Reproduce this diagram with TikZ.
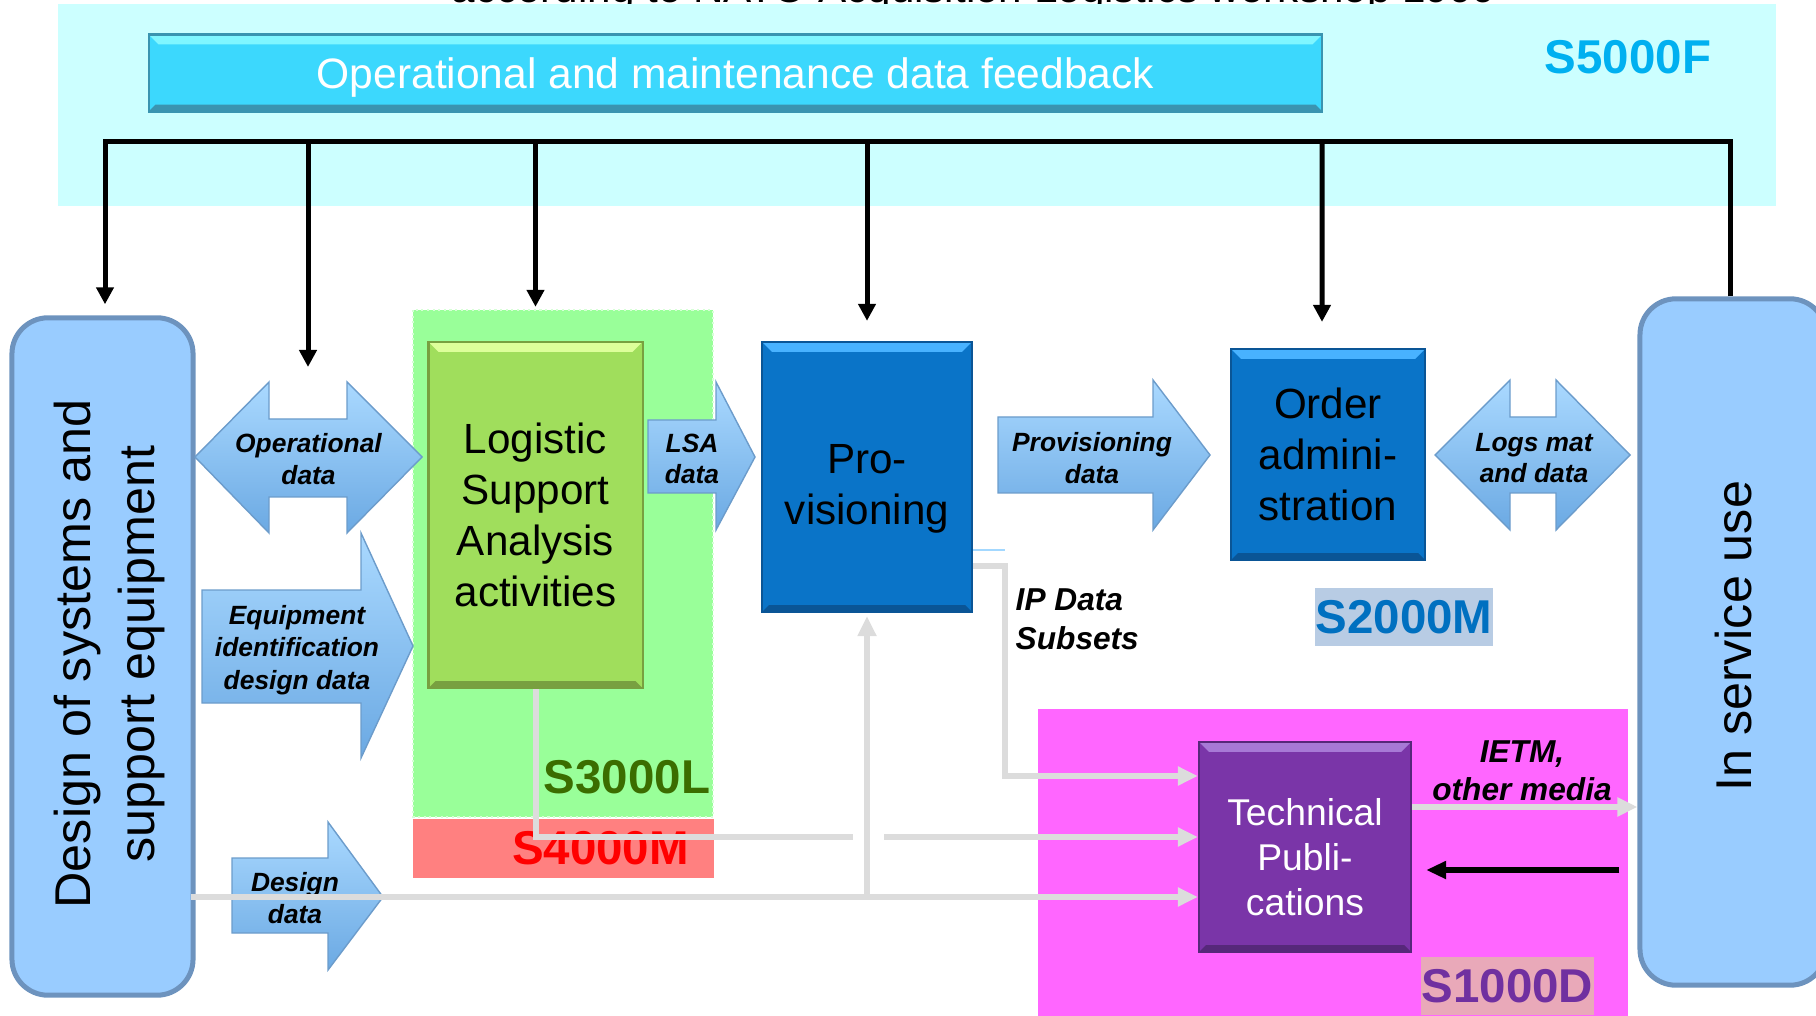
\documentclass[tikz,border=0pt]{standalone}
\usepackage{fontspec}
\setmainfont{Liberation Sans}
\usetikzlibrary{arrows.meta}

\definecolor{feedbg}{HTML}{CCFFFF}
\definecolor{feedbar}{HTML}{3CD8FD}
\definecolor{feedlight}{HTML}{80F6FF}
\definecolor{feeddark}{HTML}{3A94B0}
\definecolor{specblue}{HTML}{00B0F0}
\definecolor{areagreen}{HTML}{99FF99}
\definecolor{areared}{HTML}{FF8080}
\definecolor{areamagenta}{HTML}{FF66FF}
\definecolor{lsagreen}{HTML}{A0DE5C}
\definecolor{lsalight}{HTML}{DDFF9A}
\definecolor{lsadark}{HTML}{78A040}
\definecolor{provblue}{HTML}{0A74C8}
\definecolor{provlight}{HTML}{48B2FF}
\definecolor{provdark}{HTML}{0A5596}
\definecolor{tppurple}{HTML}{7A35A8}
\definecolor{tplight}{HTML}{A779D6}
\definecolor{tpdark}{HTML}{56287A}
\definecolor{endblue}{HTML}{99CCFF}
\definecolor{endedge}{HTML}{6D93BE}
\definecolor{arrowtop}{HTML}{AAD9FF}
\definecolor{arrowbot}{HTML}{6BA9E3}
\definecolor{arrowedge}{HTML}{6C9CCB}
\definecolor{linkgray}{HTML}{DCDCDC}
\definecolor{s3green}{HTML}{3B6D00}
\definecolor{s2bg}{HTML}{B8CCE4}
\definecolor{s2text}{HTML}{0070C0}
\definecolor{s1bg}{HTML}{E9A9B9}
\definecolor{s1text}{HTML}{7030A0}

\tikzset{
  blockbox/.style n args={3}{fill=#1, draw=#3, line width=0.6pt, align=center,
    path picture={
      \fill[#2] (path picture bounding box.north west) -- (path picture bounding box.north east)
        -- ([xshift=-0.1cm,yshift=-0.1cm]path picture bounding box.north east)
        -- ([xshift=0.1cm,yshift=-0.1cm]path picture bounding box.north west) -- cycle;
      \fill[#3] (path picture bounding box.south west) -- (path picture bounding box.south east)
        -- ([xshift=-0.07cm,yshift=0.07cm]path picture bounding box.south east)
        -- ([xshift=0.07cm,yshift=0.07cm]path picture bounding box.south west) -- cycle;
    }},
  endbox/.style={fill=endblue, draw=endedge, line width=0.05cm, rounded corners=0.36cm},
  endtext/.style={align=center, font=\fontsize{14.3}{18.2}\selectfont},
  bigtext/.style={align=center, font=\fontsize{12}{14.5}\selectfont},
  flowarrow/.style={top color=arrowtop, bottom color=arrowbot, draw=arrowedge, line width=0.4pt},
  flowlbl/.style={font=\fontsize{7.5}{9}\selectfont\bfseries\itshape, align=center, inner sep=0pt},
  notelbl/.style={font=\fontsize{9}{11}\selectfont\bfseries\itshape, inner sep=0pt},
  speclbl/.style={font=\fontsize{13.5}{16}\selectfont\bfseries, inner sep=0pt},
  bus/.style={line width=0.05cm, black},
  busdrop/.style={bus, -{Triangle[length=0.17cm,width=0.17cm]}},
  graylink/.style={line width=0.06cm, linkgray},
  graytip/.style={-{Triangle[length=0.2cm,width=0.18cm]}},
  backlink/.style={line width=0.06cm, black, -{Triangle[length=0.2cm,width=0.17cm]}},
}

\begin{document}
\begin{tikzpicture}[x=0.01cm,y=-0.01cm]
  \useasboundingbox (0,0) rectangle (1816,1016);
  \clip (0,0) rectangle (1816,1016);
  % title, cut off at the top
  \node[anchor=base, inner sep=0pt, font=\fontsize{12}{14}\selectfont] (source) at (974,3) {according to NATO Acquisition Logistics workshop 1999};

  % areas
  \fill[feedbg] (58,4) rectangle (1776,206); % S5000F
  \fill[areagreen] (413,310) rectangle (713,817); % S3000L
  \draw[white!60!areagreen, densely dotted, line width=0.6pt] (413,310) rectangle (713,817);
  \fill[areared] (413,819) rectangle (714,878); % S4000M
  \fill[areamagenta] (1038,709) rectangle (1628,1016); % S1000D

  \node[blockbox={feedbar}{feedlight}{feeddark}, minimum width=11.73cm, minimum height=0.77cm, text=white, text depth=0pt, font=\fontsize{12.1}{14}\selectfont] (feedback) at (735.5,73) {Operational and maintenance data feedback};
  \node[speclbl, text=specblue] (s5000f) at (1628,57) {S5000F};

  % main boxes
  \node[endbox, minimum width=1.81cm, minimum height=6.77cm] (design) at (102.5,656.5) {};
  \node[endtext, rotate=90] (designtxt) at (109,654) {Design of systems and\\support equipment};
  \node[endbox, minimum width=1.86cm, minimum height=6.86cm] (service) at (1733,642) {};
  \node[endtext, rotate=90] (servicetxt) at (1733,636) {In service use};
  \node[blockbox={lsagreen}{lsalight}{lsadark}, bigtext, minimum width=2.14cm, minimum height=3.46cm] (lsa) at (535.5,515) {Logistic\\Support\\Analysis\\activities};
  \node[blockbox={provblue}{provlight}{provdark}, minimum width=2.10cm, minimum height=2.70cm] (prov) at (867,477) {};
  \node[bigtext] (provtxt) at ([yshift=-0.12cm]prov.center) {Pro-\\visioning};
  \node[blockbox={provblue}{provlight}{provdark}, bigtext, minimum width=1.94cm, minimum height=2.11cm] (order) at (1328,454.5) {Order\\admini-\\stration};
  \node[blockbox={tppurple}{tplight}{tpdark}, minimum width=2.12cm, minimum height=2.10cm] (tp) at (1305,847) {};
  \node[align=center, text=white, font=\fontsize{10.6}{12.8}\selectfont] (tptxt) at ([yshift=-0.1cm]tp.center) {Technical\\Publi-\\cations};

  % feedback bus
  \coordinate (busL) at (105,142);
  \coordinate (busR) at (1730,142);
  \coordinate (opTop) at (308,382);
  \draw[busdrop, shorten >=0.11cm] (busR |- service.north) -- (busR) -- (busL) -- (busL |- design.north);
  \draw[busdrop, shorten >=0.15cm] (busL -| opTop) -- (opTop);
  \draw[busdrop, shorten >=0.34cm] (busL -| lsa.north) -- (lsa.north);
  \draw[busdrop, shorten >=0.2cm] (busL -| prov.north) -- (prov.north);
  \draw[busdrop, shorten >=0.26cm] (busL -| order.north) ++(-6,0) -- ([xshift=-0.06cm]order.north);

  % block arrows
  \draw[flowarrow] (195,457) -- (269,382) -- (269,419) -- (347,419) -- (347,382) -- (422,457) -- (347,533) -- (347,497) -- (269,497) -- (269,533) -- cycle; % operational
  \draw[flowarrow] (202,590) -- (361,590) -- (361,533) -- (413,646) -- (361,758) -- (361,703) -- (202,703) -- cycle; % equipment
  \draw[flowarrow] (648,420) -- (716,420) -- (716,382) -- (755,457) -- (716,530) -- (716,493) -- (648,493) -- cycle; % lsa data
  \draw[flowarrow] (998,417) -- (1153,417) -- (1153,380) -- (1210,455) -- (1153,530) -- (1153,493) -- (998,493) -- cycle; % provisioning
  \draw[flowarrow] (1435,455) -- (1510,380) -- (1510,417) -- (1556,417) -- (1556,380) -- (1630,455) -- (1556,530) -- (1556,493) -- (1510,493) -- (1510,530) -- cycle; % logs
  \draw[flowarrow] (232,858) -- (328,858) -- (328,822) -- (383,897) -- (328,970) -- (328,933) -- (232,933) -- cycle; % design data
  \node[flowlbl] (opdata) at (308.5,459) {Operational\\data};
  \node[flowlbl, font=\fontsize{7.5}{9.3}\selectfont\bfseries\itshape] (eqdata) at (297,650) {Equipment\\identification\\design data};
  \node[flowlbl] (lsadata) at (692,459) {LSA\\data};
  \node[flowlbl] (provdata) at (1092,458) {Provisioning\\data};
  \node[flowlbl] (logsdata) at (1534,458) {Logs mat\\and data};
  \node[flowlbl] (desdata) at (295,898) {Design\\data};

  % spec labels
  \node[speclbl, text=s3green] (s3000l) at (627,777) {S3000L};
  \node[speclbl, text=red] (s4000m) at (600.5,848) {S4000M};
  \node[speclbl, text=s2text, fill=s2bg, minimum width=1.78cm, minimum height=0.58cm] (s2000m) at (1404,617) {S2000M};
  \node[speclbl, text=s1text, fill=s1bg, minimum width=1.73cm, minimum height=0.58cm] (s1000d) at (1507.5,986) {S1000D};

  % data links
  \coordinate (ipbend) at (1005,776);
  \coordinate (jumpL) at (853,837);
  \coordinate (jumpR) at (884,837);
  \coordinate (dd) at (867,897);
  \draw[provlight!50, line width=0.5pt] ([yshift=0.63cm]prov.south east) -- ([xshift=0.32cm,yshift=0.63cm]prov.south east);
  \draw[graylink, graytip] ([yshift=0.47cm]prov.south east) -| (ipbend) -- (tp.west |- ipbend);
  \draw[graylink] (lsa.south) |- (jumpL);
  \draw[graylink, graytip] (jumpR) -- (tp.west |- jumpR);
  \draw[graylink, graytip] ([xshift=-0.05cm]design.east |- dd) -- (tp.west |- dd);
  \draw[graylink, graytip, shorten >=0.03cm] (dd) -- (prov.south);
  \draw[graylink, graytip] ([yshift=0.4cm]tp.east) -- ([yshift=0.4cm]tp.east -| service.west);
  \draw[backlink, shorten <=0.18cm, shorten >=0.14cm] ([yshift=-0.23cm]tp.east -| service.west) -- ([yshift=-0.23cm]tp.east);

  \node[notelbl, align=left, anchor=west] (ipdata) at (1015,619) {IP Data\\Subsets};
  \node[notelbl, align=center, font=\fontsize{9}{10.8}\selectfont\bfseries\itshape] (ietm) at (1522,771) {IETM,\\other media};
\end{tikzpicture}
\end{document}
